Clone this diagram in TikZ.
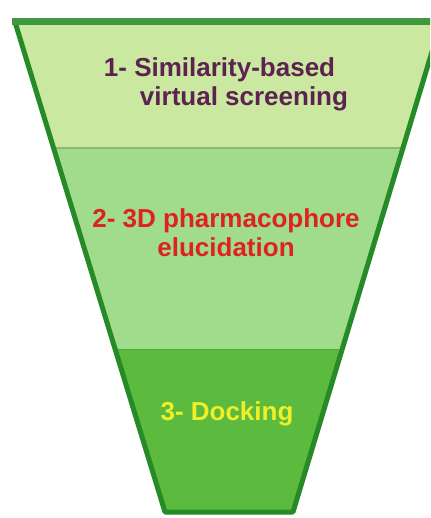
\documentclass[tikz,border=0pt]{standalone}
\usepackage{fontspec}
\setmainfont{Liberation Sans}
\usetikzlibrary{calc}
\definecolor{stufeeins}{RGB}{202,232,160}
\definecolor{stufezwei}{RGB}{160,220,140}
\definecolor{stufedrei}{RGB}{92,186,62}
\definecolor{rand}{RGB}{38,138,38}
\definecolor{randoben}{RGB}{62,152,62}
\definecolor{lila}{RGB}{92,34,80}
\definecolor{rot}{RGB}{222,34,34}
\definecolor{gelb}{RGB}{240,240,40}
\tikzset{
    stufentext/.style={font=\bfseries\fontsize{26}{29}\selectfont, inner sep=0pt},
    trennlinie/.style={line width=1.2pt}
}
\begin{document}
\begin{tikzpicture}[x=1pt, y=-1pt]
        \clip (0,0) rectangle (430,518);
        \fill[white] (0,0) rectangle (430,518);
        % Eckpunkte
        \coordinate (tl) at (15,22);
        \coordinate (tr) at (441,22);
        \coordinate (bl) at (165,512);
        \coordinate (br) at (293,512);
        \coordinate (l1) at ($(tl)!0.257!(bl)$);
        \coordinate (r1) at ($(tr)!0.257!(br)$);
        \coordinate (l2) at ($(tl)!0.669!(bl)$);
        \coordinate (r2) at ($(tr)!0.669!(br)$);
        % Stufen
        \fill[stufeeins] (tl) -- (tr) -- (r1) -- (l1) -- cycle;
        \fill[stufezwei] (l1) -- (r1) -- (r2) -- (l2) -- cycle;
        \fill[stufedrei] (l2) -- (r2) -- (br) -- (bl) -- cycle;
        \draw[trennlinie, stufezwei!85!black] (l1) -- (r1);
        \draw[trennlinie, stufedrei!90!black] (l2) -- (r2);
        % Rand
        \draw[rand, line width=5pt, line join=round] (tl) -- (bl) -- (br) -- (tr);
        \draw[randoben, line width=7pt] ($(tl)+(-3,0)$) -- (tr);
        % Beschriftung
        \node[stufentext, lila, align=left] (eins) at (226,84)
            {1- Similarity-based\\\hspace*{36pt}virtual screening};
        \node[stufentext, rot, align=center] (zwei) at (226,233) {2- 3D pharmacophore\\elucidation};
        \node[stufentext, gelb] (drei) at (227,414) {3- Docking};
    \end{tikzpicture}
\end{document}
